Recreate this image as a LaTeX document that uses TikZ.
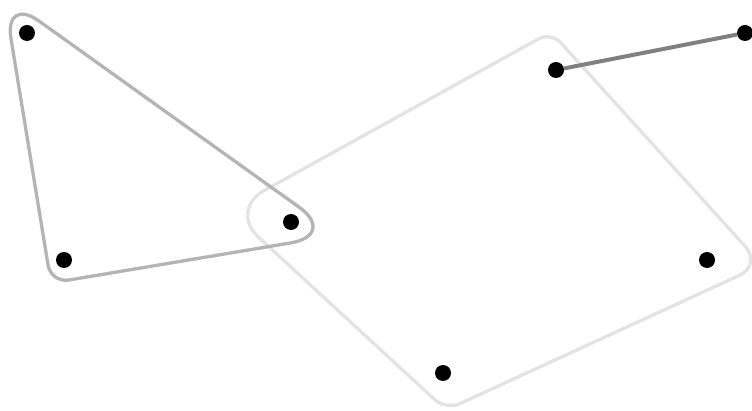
\documentclass[tikz,border=0pt]{standalone}
\usetikzlibrary{calc}
\definecolor{trigray}{HTML}{B4B4B4}
\definecolor{quadgray}{HTML}{E3E3E3}
\definecolor{edgegray}{HTML}{808080}
\tikzset{
  hulltri/.style={draw=trigray, line width=3.3pt, line cap=round, line join=round},
  hullquad/.style={draw=quadgray, line width=3.3pt, line cap=round, line join=round},
  dot/.style={circle, fill=black, inner sep=0pt, minimum size=16pt},
  pairedge/.style={draw=edgegray, line width=4pt}
}
\begin{document}
\begin{tikzpicture}[x=1pt,y=-1pt]
\useasboundingbox (0,0) rectangle (752,411);
% outer corner polygons of the hulls
\coordinate (TA) at (4,-4);
\coordinate (TB) at (51,283);
\coordinate (TC) at (338,235);
\coordinate (Q1) at (551,32);
\coordinate (Q2) at (762,265);
\coordinate (Q3) at (446,410);
\coordinate (Q4) at (229,210);
% quadrilateral hull
\draw[hullquad, rounded corners=14pt] ($(Q4)!0.5!(Q1)$) -- (Q1) -- ($(Q1)!0.5!(Q2)$);
\draw[hullquad, rounded corners=25pt] ($(Q1)!0.5!(Q2)$) -- (Q2) -- ($(Q2)!0.5!(Q3)$);
\draw[hullquad, rounded corners=15pt] ($(Q2)!0.5!(Q3)$) -- (Q3) -- ($(Q3)!0.5!(Q4)$);
\draw[hullquad, rounded corners=40pt] ($(Q3)!0.5!(Q4)$) -- (Q4) -- ($(Q4)!0.5!(Q1)$);
% triangle hull
\draw[hulltri, rounded corners=43pt] ($(TC)!0.5!(TA)$) -- (TA) -- ($(TA)!0.5!(TB)$);
\draw[hulltri, rounded corners=18pt] ($(TA)!0.5!(TB)$) -- (TB) -- ($(TB)!0.5!(TC)$);
\draw[hulltri, rounded corners=48pt] ($(TB)!0.5!(TC)$) -- (TC) -- ($(TC)!0.5!(TA)$);
% vertices
\node[dot] (a) at (27,33) {};
\node[dot] (b) at (64,260) {};
\node[dot] (c) at (291,222) {};
\node[dot] (d) at (556,70) {};
\node[dot] (e) at (745,33) {};
\node[dot] (f) at (707,260) {};
\node[dot] (g) at (443,373) {};
% pair edge
\draw[pairedge] (d) -- (e);
\end{tikzpicture}
\end{document}
